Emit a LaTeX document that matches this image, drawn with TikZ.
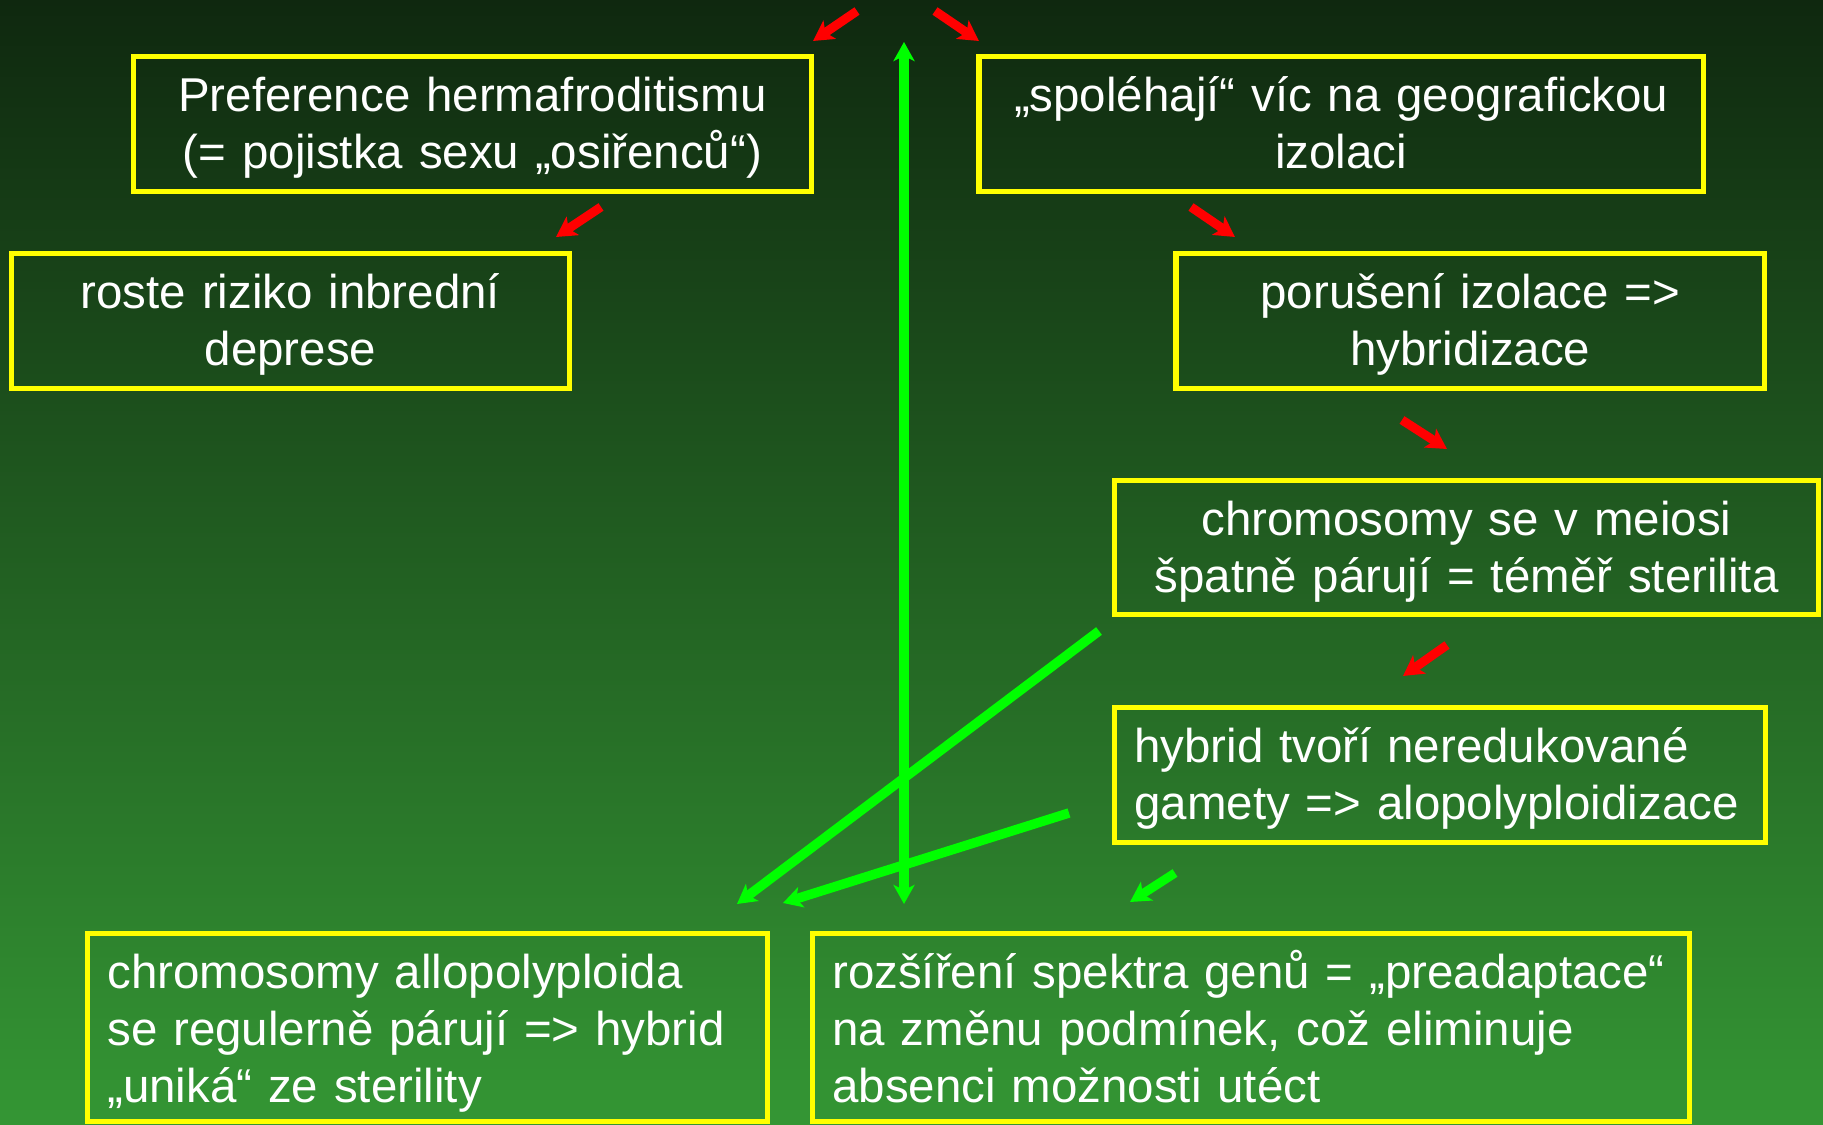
\documentclass[tikz,border=0pt]{standalone}
\usepackage{fontspec}
\setmainfont{Liberation Sans}
\usetikzlibrary{arrows.meta}
\definecolor{bgtop}{RGB}{15,40,15}
\definecolor{bgbot}{RGB}{52,150,52}
\definecolor{boxyellow}{RGB}{255,255,0}
\definecolor{arrred}{RGB}{255,0,0}
\definecolor{arrgreen}{RGB}{0,255,0}
\newcommand{\boxfont}{\fontsize{13.5pt}{16.22pt}\selectfont}

\begin{document}
\begin{tikzpicture}[x=0.01cm,y=-0.01cm,line join=miter,
  box/.style={draw=boxyellow,line width=0.055cm,text=white,font=\boxfont,
    inner xsep=0.2cm,inner ysep=0pt,text height=0.55cm,text depth=0.8cm},
  redarr/.style={draw=arrred,line width=0.09cm,-{Stealth[length=0.2cm,width=0.22cm,inset=0.05cm]}},
  greenarr/.style={draw=arrgreen,line width=0.09cm,-{Stealth[length=0.2cm,width=0.22cm,inset=0.05cm]}},
  longarr/.style={draw=arrgreen,line width=0.095cm,-{Stealth[length=0.19cm,width=0.21cm,inset=0.05cm]}},
  botharr/.style={draw=arrgreen,line width=0.095cm,
    {Stealth[length=0.19cm,width=0.21cm,inset=0.05cm]}-{Stealth[length=0.19cm,width=0.21cm,inset=0.05cm]}}]
  % slide background, px grid
  \useasboundingbox (0,0) rectangle (1823,1125);
  \shade[top color=bgtop,bottom color=bgbot] (0,0) rectangle (1823,1125);
  % boxes
  \node[box,minimum width=6.78cm,text width=6.38cm,align=center] (pref) at (472.5,124)
    {Preference hermafroditismu\\(= pojistka sexu „osiřenců“)};
  \node[box,minimum width=7.245cm,text width=6.845cm,align=center] (spol) at (1341.25,124)
    {„spoléhají“ víc na geografickou\\izolaci};
  \node[box,minimum width=5.58cm,text width=5.18cm,align=center] (roste) at (290.5,321)
    {roste riziko inbrední\\deprese};
  \node[box,minimum width=5.885cm,text width=5.485cm,align=center] (poruseni) at (1470.25,321)
    {porušení izolace =>\\hybridizace};
  \node[box,minimum width=7.04cm,text width=6.64cm,align=center,text depth=0.79cm] (meiosi) at (1466.5,547.5)
    {chromosomy se v meiosi\\špatně párují = téměř sterilita};
  \node[box,minimum width=6.51cm,text width=6.11cm,align=left] (gamety) at (1440,775)
    {hybrid tvoří neredukované\\gamety => alopolyploidizace};
  \node[box,minimum width=6.8cm,text width=6.4cm,align=left,text depth=1.33cm] (allo) at (427.5,1027.5)
    {chromosomy allopolyploida\\se regulerně párují => hybrid\\„uniká“ ze sterility};
  \node[box,minimum width=8.765cm,text width=8.365cm,align=left,text depth=1.33cm] (spektrum) at (1250.75,1027.5)
    {rozšíření spektra genů = „preadaptace“\\na změnu podmínek, což eliminuje\\absenci možnosti utéct};
  % arrow ends
  \coordinate (A1) at (857,11);
  \coordinate (A2) at (813,41);
  \coordinate (B1) at (935,11);
  \coordinate (B2) at (979,41);
  \coordinate (C1) at (601,207);
  \coordinate (C2) at (556,237);
  \coordinate (D1) at (1191,207);
  \coordinate (D2) at (1235,237);
  \coordinate (E1) at (1402,420);
  \coordinate (E2) at (1447,449);
  \coordinate (F1) at (1447,645);
  \coordinate (F2) at (1403,676);
  \coordinate (G1) at (1175,873);
  \coordinate (G2) at (1130,902);
  \coordinate (V1) at (904,904);
  \coordinate (V2) at (904,42);
  \coordinate (L1) at (1099,631);
  \coordinate (L2) at (737,904);
  \coordinate (M1) at (1069,813);
  \coordinate (M2) at (783,903);
  % red steps
  \draw[redarr] (A1)--(A2);
  \draw[redarr] (B1)--(B2);
  \draw[redarr] (C1)--(C2);
  \draw[redarr] (D1)--(D2);
  \draw[redarr] (E1)--(E2);
  \draw[redarr] (F1)--(F2);
  % green ones
  \draw[greenarr] (G1)--(G2);
  \draw[botharr] (V1)--(V2);
  \draw[longarr] (L1)--(L2);
  \draw[longarr] (M1)--(M2);
\end{tikzpicture}
\end{document}
